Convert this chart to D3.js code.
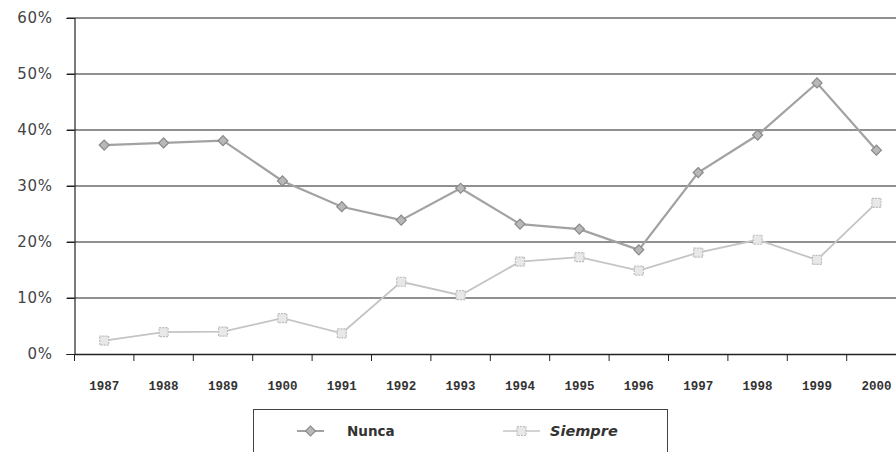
<!DOCTYPE html>
<html lang="es">
<head>
<meta charset="utf-8">
<title>Nunca / Siempre</title>
<script src="https://d3js.org/d3.v7.min.js"></script>
<style>
  body { margin: 0; background: #fff; }
</style>
</head>
<body>
<div id="chart"></div>
<script>
// categories (as printed on the original axis)
var years = ["1987","1988","1989","1900","1991","1992","1993","1994","1995","1996","1997","1998","1999","2000"];
var nunca = [37.3, 37.7, 38.1, 30.9, 26.3, 23.9, 29.6, 23.2, 22.3, 18.6, 32.4, 39.1, 48.4, 36.4];
var siempre = [2.4, 3.9, 4.0, 6.4, 3.7, 12.9, 10.5, 16.5, 17.3, 14.9, 18.1, 20.4, 16.8, 27.0];
var yTicks = [0, 10, 20, 30, 40, 50, 60];
var seriesNames = ["Nunca", "Siempre"];

var w = 896, h = 452;
var svg = d3.select("#chart").append("svg")
  .attr("width", w).attr("height", h);

var x = d3.scaleBand().domain(years).range([74.5, 74.5 + 14 * 59.4]);
var y = d3.scaleLinear().domain([0, 60]).range([354, 18]);

// gridlines
svg.append("g").selectAll("line")
  .data(yTicks.slice(1))
  .enter().append("line")
  .attr("x1", 67).attr("x2", w)
  .attr("y1", function(d){ return y(d); })
  .attr("y2", function(d){ return y(d); })
  .attr("stroke", "#222").attr("stroke-width", 1.2);

// y axis
var yAxis = svg.append("g")
  .attr("transform", "translate(74.5,0)")
  .call(d3.axisLeft(y).tickValues(yTicks).tickSize(8).tickFormat(function(d){ return d + "%"; }));
yAxis.select(".domain").attr("stroke", "#222").attr("stroke-width", 1.2);
yAxis.selectAll("line").attr("stroke", "#222");
yAxis.selectAll("text")
  .attr("font-family", "DejaVu Sans, sans-serif")
  .attr("font-size", 15)
  .attr("letter-spacing", 0.6)
  .attr("fill", "#444")
  .attr("x", -22);

// x axis
var xAxis = svg.append("g")
  .attr("transform", "translate(0,354)")
  .call(d3.axisBottom(x).tickSize(0).tickPadding(0));
xAxis.select(".domain").attr("stroke", "#222").attr("stroke-width", 1.5);
xAxis.selectAll("text")
  .attr("font-family", "Liberation Mono, monospace")
  .attr("font-size", 12.5)
  .attr("font-weight", "bold")
  .attr("fill", "#333")
  .attr("dy", 0).attr("y", 36);
// ticks at band boundaries
svg.append("g").selectAll("line")
  .data(years)
  .enter().append("line")
  .attr("x1", function(d){ return x(d); })
  .attr("x2", function(d){ return x(d); })
  .attr("y1", 354).attr("y2", 361)
  .attr("stroke", "#222");

var cx = function(d, i){ return x(years[i]) + x.bandwidth() / 2; };
var line = d3.line()
  .x(function(d, i){ return cx(d, i); })
  .y(function(d){ return y(d); });

// Siempre
svg.append("path").datum(siempre)
  .attr("d", line).attr("fill", "none")
  .attr("stroke", "#c4c4c4").attr("stroke-width", 1.8);
svg.append("g").selectAll("rect")
  .data(siempre)
  .enter().append("rect")
  .attr("x", function(d, i){ return cx(d, i) - 4.5; })
  .attr("y", function(d){ return y(d) - 4.5; })
  .attr("width", 9).attr("height", 9)
  .attr("fill", "#e8e8e8").attr("stroke", "#bdbdbd").attr("stroke-width", 1.2)
  .attr("stroke-dasharray", "2,1");

// Nunca
svg.append("path").datum(nunca)
  .attr("d", line).attr("fill", "none")
  .attr("stroke", "#a2a2a2").attr("stroke-width", 2.2);
var diamond = d3.symbol().type(d3.symbolSquare).size(50);
svg.append("g").selectAll("path")
  .data(nunca)
  .enter().append("path")
  .attr("d", diamond)
  .attr("transform", function(d, i){ return "translate(" + cx(d, i) + "," + y(d) + ") rotate(45)"; })
  .attr("fill", "#b8b8b8").attr("stroke", "#8a8a8a").attr("stroke-width", 1.2);

// legend
var lg = svg.append("g");
lg.append("rect")
  .attr("x", 253.5).attr("y", 409.5).attr("width", 414).attr("height", 60)
  .attr("fill", "none").attr("stroke", "#444").attr("stroke-width", 1);
var legendItems = [
  { name: seriesNames[0], x1: 297, x2: 324, tx: 347 },
  { name: seriesNames[1], x1: 503, x2: 540, tx: 550 }
];
legendItems.forEach(function(it, i){
  lg.append("line").attr("x1", it.x1).attr("x2", it.x2)
    .attr("y1", 431).attr("y2", 431)
    .attr("stroke", i === 0 ? "#a2a2a2" : "#c4c4c4").attr("stroke-width", i === 0 ? 2 : 1.6);
  var mx = (it.x1 + it.x2) / 2;
  if (i === 0) {
    lg.append("path").attr("d", diamond)
      .attr("transform", "translate(" + mx + ",431) rotate(45)")
      .attr("fill", "#b8b8b8").attr("stroke", "#8a8a8a").attr("stroke-width", 1.2);
  } else {
    lg.append("rect").attr("x", mx - 4.5).attr("y", 426.5).attr("width", 9).attr("height", 9)
      .attr("fill", "#e8e8e8").attr("stroke", "#bdbdbd").attr("stroke-width", 1.2)
      .attr("stroke-dasharray", "2,1");
  }
  lg.append("text").attr("x", it.tx).attr("y", 436)
    .attr("font-family", "DejaVu Sans, sans-serif")
    .attr("font-size", i === 1 ? 14.5 : 13.5).attr("font-weight", "bold")
    .attr("font-style", i === 1 ? "italic" : "normal")
    .attr("fill", "#333")
    .text(it.name);
});
</script>
</body>
</html>
